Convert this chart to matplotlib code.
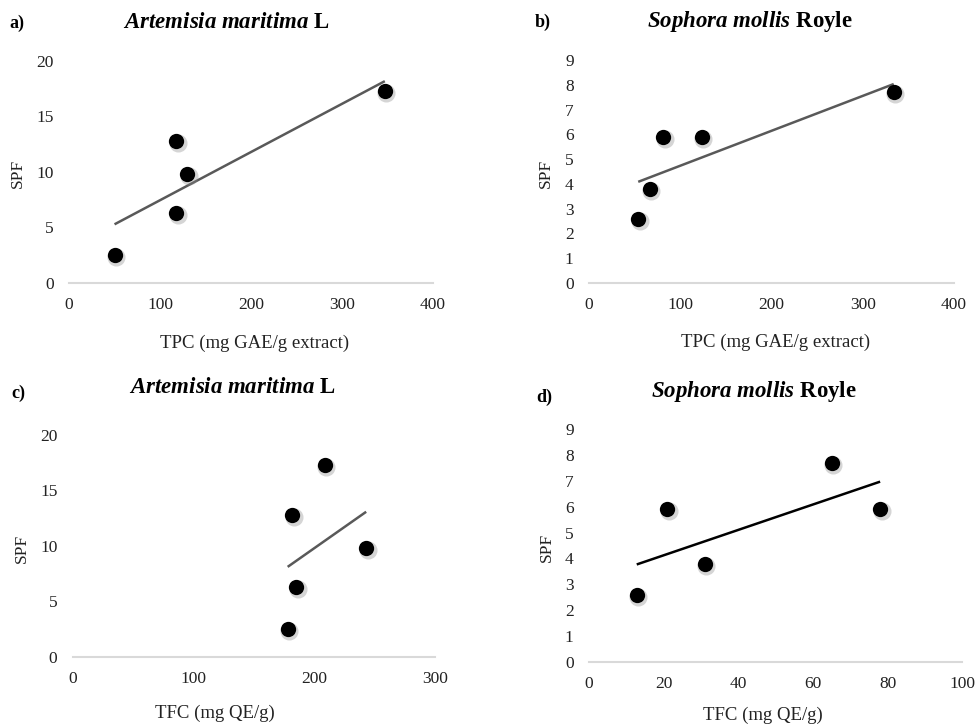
import matplotlib
matplotlib.use("Agg")
import matplotlib.pyplot as plt
import matplotlib.transforms as mtransforms
import numpy as np

plt.rcParams["font.family"] = ["Liberation Serif", "DejaVu Serif"]
plt.rcParams["mathtext.fontset"] = "custom"
plt.rcParams["mathtext.bfit"] = "Liberation Serif:italic:bold"
plt.rcParams["mathtext.it"] = "Liberation Serif:italic"
plt.rcParams["mathtext.rm"] = "Liberation Serif"

# Artemisia maritima L
tpc_am = [50, 118, 130, 118, 347]
tfc_am = [178, 182, 243, 185, 209]
spf_am = [2.5, 12.8, 9.8, 6.3, 17.3]

# Sophora mollis Royle
tpc_sm = [54, 66.5, 81.5, 123.5, 334]
tfc_sm = [12.8, 31, 21, 78, 65]
spf_sm = [2.6, 3.8, 5.9, 5.9, 7.7]

title_am = r"$\mathbfit{Artemisia\ maritima}$ L"
title_sm = r"$\mathbfit{Sophora\ mollis}$ Royle"

fig = plt.figure(figsize=(9.78, 7.25), dpi=100)

panels = [
    # rect, x, y, xlim, xticks, ylim, yticks, xlabel, title, letter, trend colour
    ([0.0706, 0.6097, 0.3722, 0.3062], tpc_am, spf_am, 400, [0, 100, 200, 300, 400],
     20, [0, 5, 10, 15, 20], "TPC (mg GAE/g extract)", title_am, "a)", "#595959"),
    ([0.6022, 0.6097, 0.3732, 0.3076], tpc_sm, spf_sm, 400, [0, 100, 200, 300, 400],
     9, list(range(10)), "TPC (mg GAE/g extract)", title_sm, "b)", "#595959"),
    ([0.0743, 0.0942, 0.3705, 0.3058], tfc_am, spf_am, 300, [0, 100, 200, 300],
     20, [0, 5, 10, 15, 20], "TFC (mg QE/g)", title_am, "c)", "#595959"),
    ([0.6022, 0.0873, 0.3817, 0.3206], tfc_sm, spf_sm, 100, [0, 20, 40, 60, 80, 100],
     9, list(range(10)), "TFC (mg QE/g)", title_sm, "d)", "black"),
]

# title / letter / label positions in pixels (x, y from top)
title_pos = [(226, 23), (750, 22), (232, 387), (754, 392)]
letter_pos = [(9, 23), (535, 22), (11, 393), (536, 397)]
xlabel_pos = [(255, 343), (776, 342), (215, 713), (763, 715)]
ylabel_pos = [(18, 173), (546, 173), (22, 548), (547, 547)]

W, H = 978, 725
for i, (rect, x, y, xmax, xt, ymax, yt, xlab, title, letter, tcol) in enumerate(panels):
    ax = fig.add_axes(rect)
    x = np.array(x)
    y = np.array(y)

    # linear trendline
    k, b = np.polyfit(x, y, 1)
    xs = np.array([x.min(), x.max()])
    ax.plot(xs, k * xs + b, color=tcol, lw=1.8, zorder=2, solid_capstyle="butt")

    # soft shadow under the markers
    shadow = mtransforms.offset_copy(ax.transData, fig=fig, x=1.0, y=-1.5, units="points")
    ax.plot(x, y, "o", ms=13, color="#888888", alpha=0.35, mec="none",
            transform=shadow, zorder=3, clip_on=False)
    ax.plot(x, y, "o", ms=11, color="black", mec="none", zorder=4, clip_on=False)

    ax.set_xlim(0, xmax)
    ax.set_ylim(0, ymax)
    ax.set_xticks(xt)
    ax.set_yticks(yt)
    ax.tick_params(length=0, labelsize=12.5, colors="#222222")
    ax.tick_params(axis="y", pad=11)
    ax.tick_params(axis="x", pad=10)
    for s in ["top", "right", "left"]:
        ax.spines[s].set_visible(False)
    ax.spines["bottom"].set_color("#d9d9d9")
    ax.spines["bottom"].set_linewidth(1.5)

    fig.text(title_pos[i][0] / W, 1 - title_pos[i][1] / H, title, fontsize=16.5,
             fontweight="bold", ha="center", va="center")
    fig.text(letter_pos[i][0] / W, 1 - letter_pos[i][1] / H, letter, fontsize=13,
             fontweight="bold", ha="left", va="center")
    fig.text(xlabel_pos[i][0] / W, 1 - xlabel_pos[i][1] / H, xlab, fontsize=13.5,
             ha="center", va="center", color="#222222")
    fig.text(ylabel_pos[i][0] / W, 1 - ylabel_pos[i][1] / H, "SPF", fontsize=12.5,
             ha="center", va="center", rotation=90, color="#222222")

fig.savefig("out.png", dpi=100, facecolor="white")
